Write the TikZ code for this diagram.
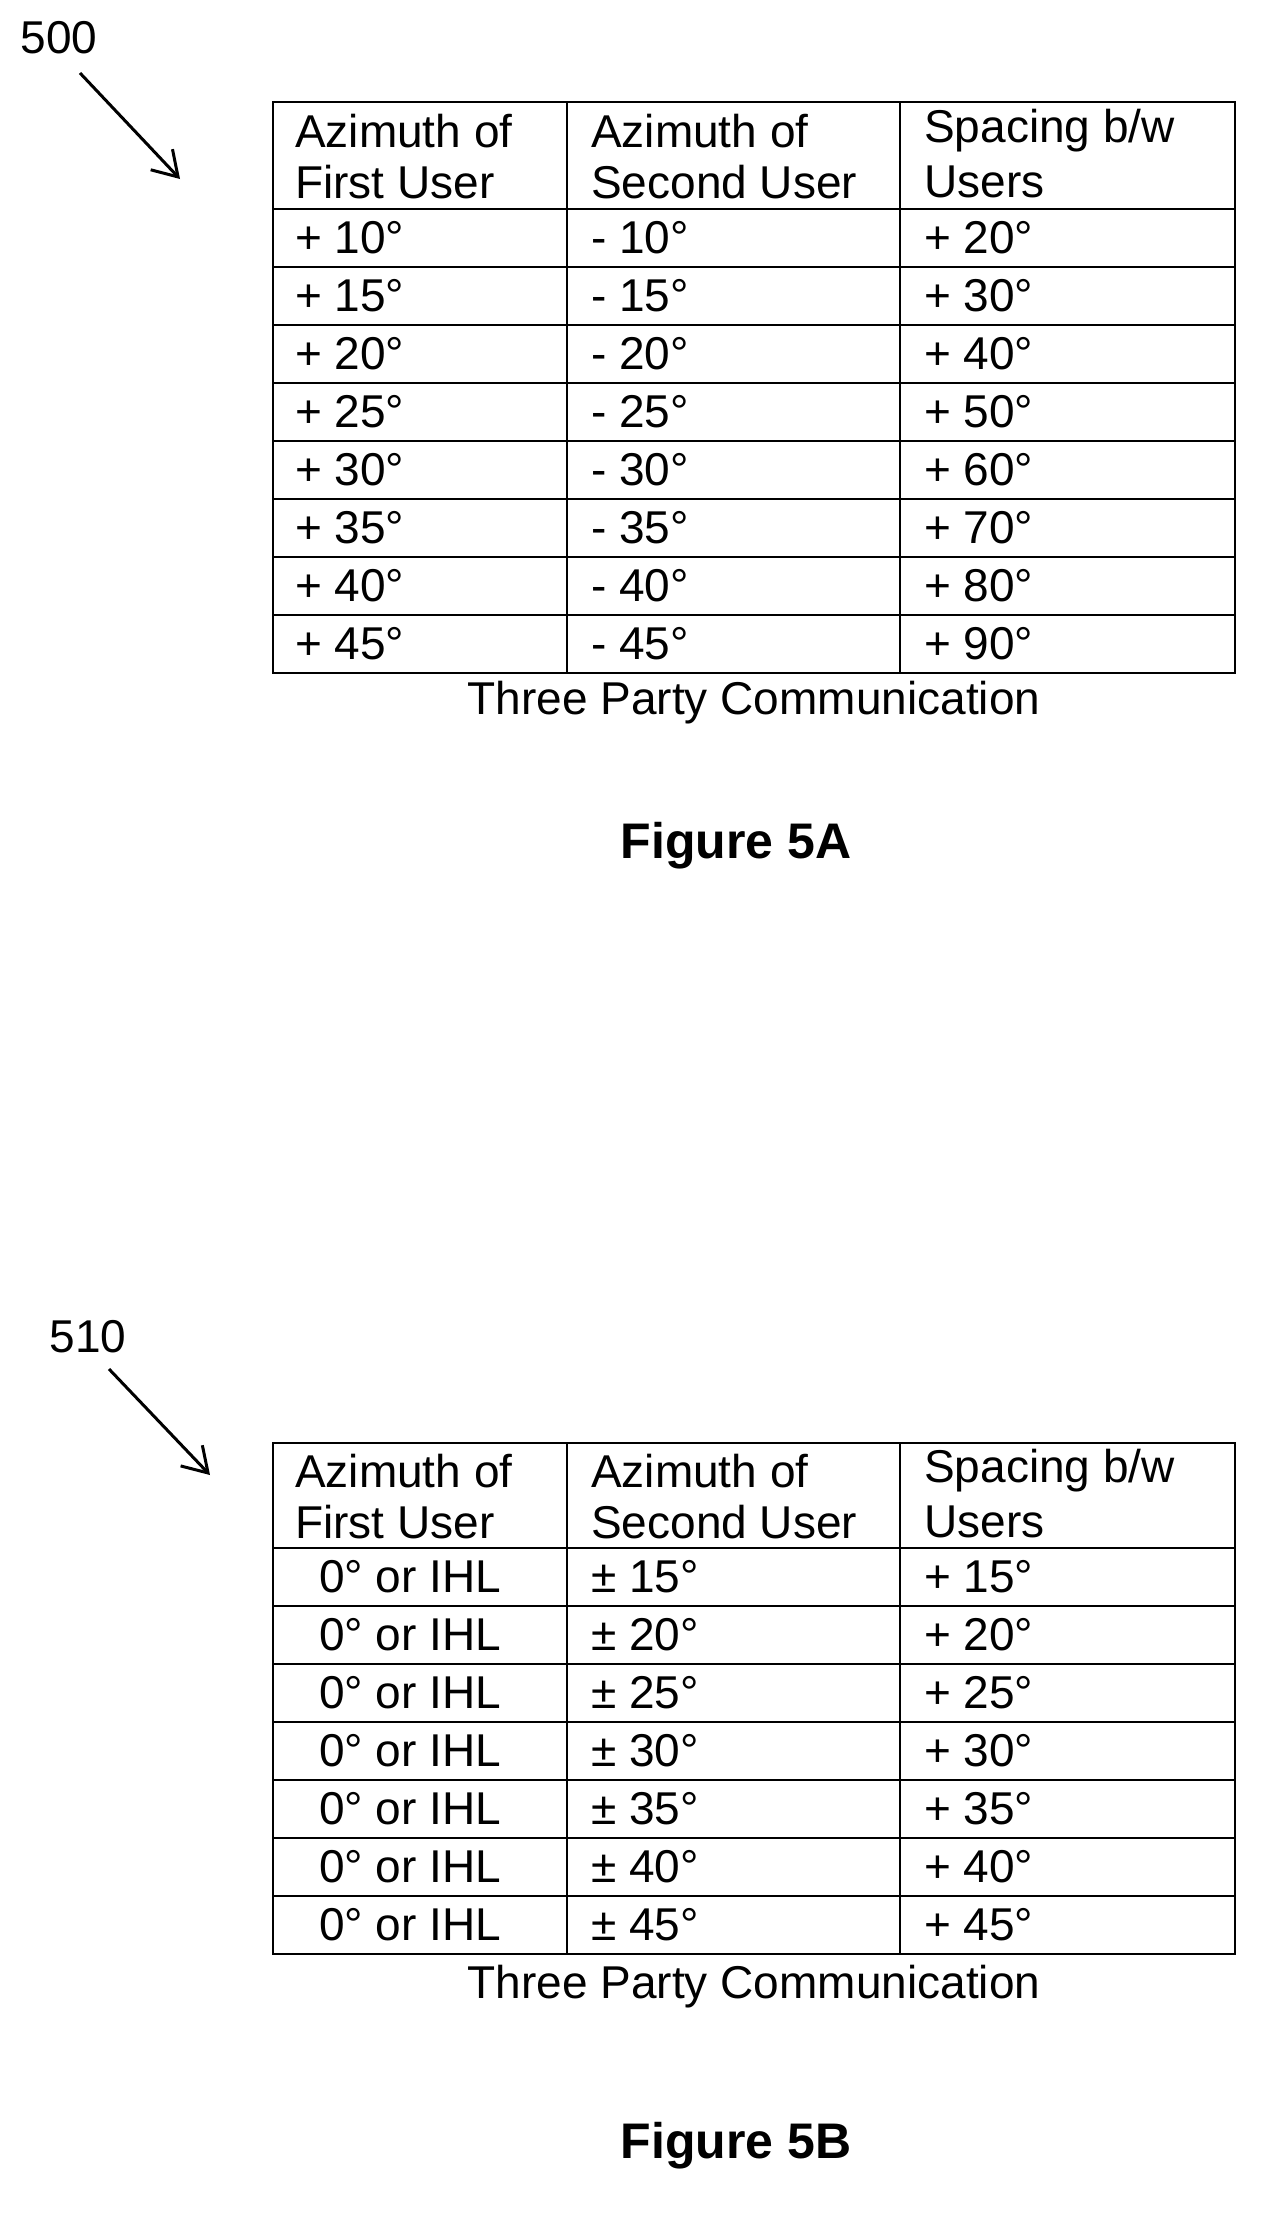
\documentclass[tikz,border=0pt]{standalone}
\usepackage{fontspec}
\setmainfont{Liberation Sans}
\usetikzlibrary{arrows.meta}
\tikzset{
  txt/.style={font=\fontsize{46}{50}\selectfont, inner sep=0pt, anchor=west},
  captxt/.style={font=\fontsize{46}{50}\selectfont, inner sep=0pt},
  figtxt/.style={font=\fontsize{50}{54}\selectfont\bfseries, inner sep=0pt},
  grid/.style={line width=2pt},
  pointer/.style={line width=3pt, -{Straight Barb[length=24pt,width=30pt,line width=3pt]}}
}
\begin{document}
\begin{tikzpicture}[x=1pt,y=-1pt]
\useasboundingbox (0,0) rectangle (1271,2221);
% ---------- Figure 5A ----------
\draw[grid] (273,102) rectangle (1235,673);
\draw[grid] (567,102) -- (567,673) (900,102) -- (900,673);
\draw[grid] (273,209) -- (1235,209);
\foreach \i in {1,...,7} \draw[grid] (273,209+58*\i) -- (1235,209+58*\i);
\node[txt] (a11) at (295,131) {Azimuth of};
\node[txt] (a12) at (295,182) {First User};
\node[txt] (a21) at (591,131) {Azimuth of};
\node[txt] (a22) at (591,182) {Second User};
\node[txt] (a31) at (924,131) {Spacing b/w};
\node[txt] (a32) at (924,182) {Users};
\foreach \a/\b/\c [count=\i from 0] in {10/10/20,15/15/30,20/20/40,25/25/50,30/30/60,35/35/70,40/40/80,45/45/90}{
  \node[txt] (ra\i) at (295,238+58*\i) {+ \a°};
  \node[txt] (rb\i) at (591,238+58*\i) {- \b°};
  \node[txt] (rc\i) at (924,238+58*\i) {+ \c°};
}
\node[captxt] (capA) at (754,703) {Three Party Communication};
\node[figtxt] (figA) at (736,846) {Figure 5A};
\node[captxt] (l500) at (59,38) {500};
\coordinate (sA) at (80,73);
\coordinate (tA) at (180,179);
\draw[pointer] (sA) -- (tA);
% ---------- Figure 5B ----------
\draw[grid] (273,1443) rectangle (1235,1954);
\draw[grid] (567,1443) -- (567,1954) (900,1443) -- (900,1954);
\draw[grid] (273,1548) -- (1235,1548);
\foreach \i in {1,...,6} \draw[grid] (273,1548+58*\i) -- (1235,1548+58*\i);
\node[txt] (b11) at (295,1471) {Azimuth of};
\node[txt] (b12) at (295,1522) {First User};
\node[txt] (b21) at (591,1471) {Azimuth of};
\node[txt] (b22) at (591,1522) {Second User};
\node[txt] (b31) at (924,1471) {Spacing b/w};
\node[txt] (b32) at (924,1522) {Users};
\foreach \a [count=\i from 0] in {15,20,25,30,35,40,45}{
  \node[txt] (sa\i) at (319,1577+58*\i) {0° or IHL};
  \node[txt] (sb\i) at (591,1577+58*\i) {± \a°};
  \node[txt] (sc\i) at (924,1577+58*\i) {+ \a°};
}
\node[captxt] (capB) at (754,1987) {Three Party Communication};
\node[figtxt] (figB) at (736,2146) {Figure 5B};
\node[captxt] (l510) at (88,1337) {510};
\coordinate (sB) at (109,1369);
\coordinate (tB) at (210,1475);
\draw[pointer] (sB) -- (tB);
\end{tikzpicture}
\end{document}
